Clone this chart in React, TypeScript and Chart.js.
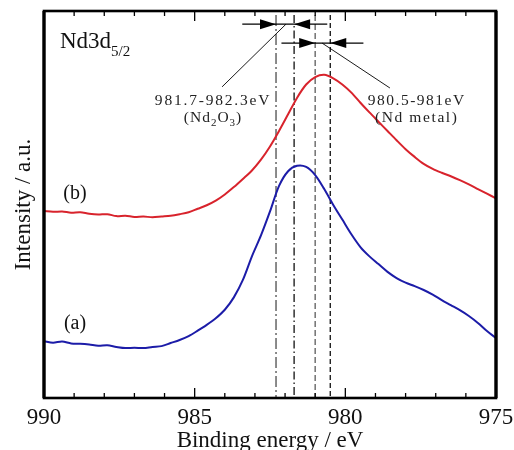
import React, { useEffect, useRef } from 'react';
import { Chart, registerables } from 'chart.js';
Chart.register(...registerables);

// ---- data ----
const energy = [990.0, 989.7, 989.4, 989.1, 988.8, 988.5, 988.2, 987.9, 987.6, 987.3, 987.0, 986.7, 986.4, 986.1, 985.8, 985.5, 985.2, 984.9, 984.6, 984.3, 984.0, 983.7, 983.4, 983.1, 982.8, 982.5, 982.2, 981.9, 981.6, 981.3, 981.0, 980.7, 980.4, 980.1, 979.8, 979.5, 979.2, 978.9, 978.6, 978.3, 978.0, 977.7, 977.4, 977.1, 976.8, 976.5, 976.2, 975.9, 975.6, 975.3, 975.0];
const intensityA = [14.7, 14.3, 14.6, 14.1, 14.0, 13.8, 13.5, 13.6, 13.2, 12.9, 13.0, 12.9, 13.2, 13.4, 14.2, 15.0, 16.0, 17.4, 18.9, 20.6, 22.8, 26.0, 30.5, 36.6, 42.0, 48.2, 54.8, 58.6, 60.0, 59.7, 57.6, 54.0, 49.9, 46.1, 42.3, 39.0, 36.6, 34.6, 32.6, 31.0, 29.8, 28.9, 27.9, 26.7, 25.3, 24.0, 22.7, 21.2, 19.4, 17.3, 15.5];
const intensityB = [48.3, 48.1, 48.2, 47.9, 48.0, 47.6, 47.4, 47.5, 47.0, 47.1, 46.8, 46.9, 46.7, 46.9, 47.1, 47.5, 48.0, 48.9, 49.8, 51.0, 52.6, 54.5, 56.6, 58.8, 61.6, 65.0, 69.0, 73.3, 77.6, 81.0, 82.9, 83.5, 82.6, 81.0, 78.9, 76.3, 73.8, 71.4, 69.0, 66.6, 64.3, 62.3, 60.5, 59.2, 58.2, 57.3, 56.3, 55.2, 54.0, 52.8, 51.6];
const seriesLabels = ['(a)', '(b)'];
const xTickValues = [990, 985, 980, 975];
const xTickLabels = ['990', '985', '980', '975'];
const minorTickValues = [975, 976, 977, 978, 979, 980, 981, 982, 983, 984, 985, 986, 987, 988, 989, 990];
const refLineEnergies = [982.3, 981.7, 981.0, 980.5];
const oxideRange = [982.3, 981.7];
const metalRange = [981.0, 980.5];
const oxideLabel = '981.7-982.3eV';
const metalLabel = '980.5-981eV';
const xTitle = 'Binding energy / eV';
const yTitle = 'Intensity / a.u.';

const SERIF = '"Liberation Serif", "Times New Roman", serif';
const RED = '#d8232c';
const BLUE = '#1c1ca8';

function drawRich(ctx: CanvasRenderingContext2D, parts: { t: string; sub?: boolean }[], cx: number, baseY: number, size: number, spacing: number) {
  const subSize = Math.round(size * 0.7);
  let total = 0;
  const widths: number[] = [];
  parts.forEach((p) => {
    ctx.font = `${p.sub ? subSize : size}px ${SERIF}`;
    (ctx as any).letterSpacing = `${spacing}px`;
    const w = ctx.measureText(p.t).width;
    widths.push(w);
    total += w;
  });
  let x = cx - total / 2;
  ctx.textAlign = 'left';
  ctx.textBaseline = 'alphabetic';
  parts.forEach((p, i) => {
    ctx.font = `${p.sub ? subSize : size}px ${SERIF}`;
    (ctx as any).letterSpacing = `${spacing}px`;
    ctx.fillText(p.t, x, baseY + (p.sub ? size * 0.25 : 0));
    x += widths[i];
  });
  (ctx as any).letterSpacing = '0px';
}

function arrowHead(ctx: CanvasRenderingContext2D, tipX: number, y: number, dir: number) {
  const len = 16, half = 5;
  ctx.beginPath();
  ctx.moveTo(tipX, y);
  ctx.lineTo(tipX - dir * len, y - half);
  ctx.lineTo(tipX - dir * len, y + half);
  ctx.closePath();
  ctx.fill();
}

const decorPlugin = {
  id: 'decor',
  beforeDatasetsDraw(chart: any) {
    const { ctx, chartArea } = chart;
    const xs = chart.scales.x;
    const styles = [
      { color: '#6e6e6e', dash: [11, 3, 2, 3], w: 1.6 },
      { color: '#111', dash: [8, 3, 1.5, 3], w: 1.3 },
      { color: '#7a7a7a', dash: [6, 3], w: 1.6 },
      { color: '#111', dash: [5, 3], w: 1.3 },
    ];
    ctx.save();
    refLineEnergies.forEach((e, i) => {
      const st = styles[i];
      const px = xs.getPixelForValue(e);
      ctx.strokeStyle = st.color;
      ctx.lineWidth = st.w;
      ctx.setLineDash(st.dash);
      ctx.beginPath();
      ctx.moveTo(px, chartArea.top + 4);
      ctx.lineTo(px, chartArea.bottom);
      ctx.stroke();
    });
    ctx.restore();
  },
  afterDraw(chart: any) {
    const { ctx, chartArea } = chart;
    const xs = chart.scales.x;
    const ys = chart.scales.y;
    const { left, right, top, bottom } = chartArea;
    ctx.save();
    ctx.setLineDash([]);
    // ticks
    ctx.strokeStyle = '#000';
    ctx.lineWidth = 1.3;
    minorTickValues.forEach((v) => {
      const px = xs.getPixelForValue(v);
      const len = v % 5 === 0 ? 10 : 5;
      ctx.beginPath();
      ctx.moveTo(px, bottom);
      ctx.lineTo(px, bottom - len);
      ctx.moveTo(px, top);
      ctx.lineTo(px, top + len);
      ctx.stroke();
    });
    // tick labels
    ctx.fillStyle = '#111';
    ctx.font = `23px ${SERIF}`;
    ctx.textAlign = 'center';
    ctx.textBaseline = 'alphabetic';
    xTickValues.forEach((v, i) => {
      ctx.fillText(xTickLabels[i], xs.getPixelForValue(v), bottom + 26);
    });
    // frame
    ctx.lineWidth = 2.6;
    ctx.strokeRect(left, top, right - left, bottom - top);
    ctx.lineWidth = 3.2;
    ctx.beginPath();
    ctx.moveTo(left, top);
    ctx.lineTo(left, bottom);
    ctx.moveTo(right, top);
    ctx.lineTo(right, bottom);
    ctx.stroke();

    // arrows
    ctx.fillStyle = '#000';
    ctx.strokeStyle = '#000';
    ctx.lineWidth = 1.2;
    const drawPair = (range: number[], yv: number) => {
      const y = ys.getPixelForValue(yv);
      const a = xs.getPixelForValue(range[0]);
      const b = xs.getPixelForValue(range[1]);
      const ext = xs.getPixelForValue(range[0] + 1.12);
      const ext2 = xs.getPixelForValue(range[1] - 1.1);
      ctx.beginPath();
      ctx.moveTo(ext, y);
      ctx.lineTo(ext2, y);
      ctx.stroke();
      arrowHead(ctx, a, y, 1);
      arrowHead(ctx, b, y, -1);
    };
    drawPair(oxideRange, 96.6);
    drawPair(metalRange, 91.7);

    // leader lines
    ctx.lineWidth = 0.9;
    ctx.beginPath();
    ctx.moveTo(xs.getPixelForValue(981.97), ys.getPixelForValue(96.6));
    ctx.lineTo(xs.getPixelForValue(984.09), ys.getPixelForValue(80.4));
    ctx.moveTo(xs.getPixelForValue(980.77), ys.getPixelForValue(91.7));
    ctx.lineTo(xs.getPixelForValue(978.52), ys.getPixelForValue(80.1));
    ctx.stroke();

    // annotation texts
    ctx.fillStyle = '#222';
    drawRich(ctx, [{ t: oxideLabel }], xs.getPixelForValue(984.39), ys.getPixelForValue(75.6), 15.5, 1.8);
    drawRich(ctx, [{ t: '(Nd' }, { t: '2', sub: true }, { t: 'O' }, { t: '3', sub: true }, { t: ')' }], xs.getPixelForValue(984.39), ys.getPixelForValue(71.3), 15.5, 1.0);
    drawRich(ctx, [{ t: metalLabel }], xs.getPixelForValue(977.63), ys.getPixelForValue(75.6), 15.5, 1.5);
    drawRich(ctx, [{ t: '(Nd metal)' }], xs.getPixelForValue(977.63), ys.getPixelForValue(71.3), 15.5, 1.6);

    // Nd3d5/2
    ctx.fillStyle = '#111';
    ctx.textAlign = 'left';
    ctx.textBaseline = 'alphabetic';
    ctx.font = `23px ${SERIF}`;
    const nx = left + 16;
    ctx.fillText('Nd3d', nx, top + 37);
    const w = ctx.measureText('Nd3d').width;
    ctx.font = `15px ${SERIF}`;
    ctx.fillText('5/2', nx + w, top + 45);

    // series labels
    ctx.font = `20px ${SERIF}`;
    ctx.textAlign = 'center';
    ctx.textBaseline = 'middle';
    ctx.fillText(seriesLabels[1], left + 31, 194);
    ctx.fillText(seriesLabels[0], left + 31, 324);

    // axis titles
    ctx.font = `23px ${SERIF}`;
    ctx.textAlign = 'center';
    ctx.textBaseline = 'alphabetic';
    ctx.fillText(xTitle, (left + right) / 2, 447);
    ctx.save();
    ctx.translate(30, (top + bottom) / 2);
    ctx.rotate(-Math.PI / 2);
    ctx.fillText(yTitle, 0, 0);
    ctx.restore();
    ctx.restore();
  },
};

export default function App() {
  const ref = useRef<HTMLCanvasElement>(null);
  useEffect(() => {
    document.body.style.margin = '0';
    const canvas = ref.current!;
    const chart = new Chart(canvas, {
      type: 'line',
      data: {
        datasets: [
          {
            label: seriesLabels[1],
            data: energy.map((e, i) => ({ x: e, y: intensityB[i] })),
            borderColor: RED,
            borderWidth: 2,
            pointRadius: 0,
            tension: 0.3,
            fill: false,
          },
          {
            label: seriesLabels[0],
            data: energy.map((e, i) => ({ x: e, y: intensityA[i] })),
            borderColor: BLUE,
            borderWidth: 2,
            pointRadius: 0,
            tension: 0.3,
            fill: false,
          },
        ],
      },
      options: {
        animation: false,
        responsive: false,
        layout: { padding: { left: 44, right: 18, top: 11, bottom: 0 } },
        plugins: { legend: { display: false }, tooltip: { enabled: false } },
        scales: {
          x: {
            type: 'linear',
            reverse: true,
            min: 975,
            max: 990,
            afterBuildTicks: (s: any) => {
              s.ticks = xTickValues.map((v) => ({ value: v }));
            },
            afterFit: (s: any) => {
              s.height = 52;
              s.paddingLeft = 0;
              s.paddingRight = 0;
            },
            ticks: { display: false },
            grid: { display: false, drawTicks: false },
            border: { display: false },
          },
          y: { display: false, min: 0, max: 100 },
        },
      },
      plugins: [decorPlugin],
    } as any);
    return () => chart.destroy();
  }, []);
  return <canvas ref={ref} width={514} height={450} style={{ display: 'block' }} />;
}
